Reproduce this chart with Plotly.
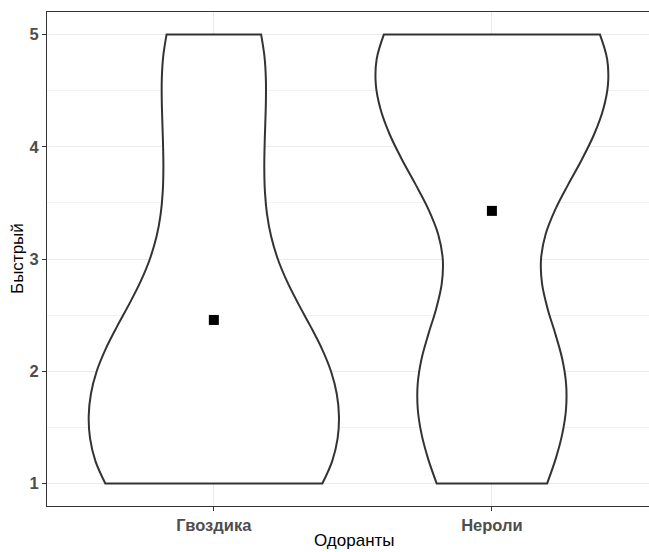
import numpy as np
import plotly.graph_objects as go

# ---- data (counts of ratings 1..5 per odorant) ----
categories = ["Гвоздика", "Нероли"]
rating_levels = [1, 2, 3, 4, 5]
gvozdika_counts = [11, 11, 4, 4, 5]
neroli_counts = [5, 8, 1, 9, 12]
y_ticks = [1, 2, 3, 4, 5]
x_title = "Одоранты"
y_title = "Быстрый"


def expand(counts):
    return np.repeat(rating_levels, counts).astype(float)


def nrd0(x):
    n = len(x)
    sd = np.std(x, ddof=1)
    q1, q3 = np.percentile(x, [25, 75])
    lo = min(sd, (q3 - q1) / 1.34)
    if lo == 0:
        lo = sd
    return 0.9 * lo * n ** -0.2


def max_density(x, h):
    g = np.linspace(x.min(), x.max(), 512)
    d = np.exp(-0.5 * ((g[:, None] - x[None, :]) / h) ** 2).sum(1) / (len(x) * h * np.sqrt(2 * np.pi))
    return d.max()


samples = [expand(gvozdika_counts), expand(neroli_counts)]
bws = [nrd0(s) for s in samples]
maxd = [max_density(s, h) for s, h in zip(samples, bws)]
widths = [0.9 * m / max(maxd) for m in maxd]

fig = go.Figure()
for cat, s, h, w in zip(categories, samples, bws, widths):
    fig.add_trace(go.Violin(
        x=[cat] * len(s), y=s,
        bandwidth=h, spanmode="hard", scalemode="width", width=w,
        points=False, box_visible=False, meanline_visible=False,
        fillcolor="white", line=dict(color="#333333", width=2),
        hoverinfo="skip", showlegend=False,
    ))

fig.add_trace(go.Scatter(
    x=categories, y=[s.mean() for s in samples], mode="markers",
    marker=dict(symbol="square", size=10, color="black"),
    hoverinfo="skip", showlegend=False,
))

W, H = 649, 552
L, R, T, B = 47, 0, 12, 46
pw = W - L - R
tickfont = dict(size=16.5, color="#4D4D4D", family="Liberation Sans, Arial, sans-serif", weight="bold")

fig.update_layout(
    width=W, height=H,
    margin=dict(l=L, r=R, t=T, b=B),
    paper_bgcolor="white", plot_bgcolor="white",
    violinmode="overlay",
    font=dict(family="Liberation Sans, Arial, sans-serif"),
    xaxis=dict(
        type="category", categoryorder="array", categoryarray=categories,
        range=[-0.6, 1.565],
        showgrid=True, gridcolor="#EBEBEB", gridwidth=1,
        showline=True, linecolor="#333333", linewidth=1, mirror=True,
        ticks="outside", ticklen=4, tickcolor="#333333", tickwidth=1,
        tickfont=tickfont, zeroline=False,
    ),
    yaxis=dict(
        range=[0.8, 5.2], tickvals=y_ticks,
        showgrid=True, gridcolor="#EBEBEB", gridwidth=1,
        minor=dict(dtick=0.5, tick0=1, showgrid=True, gridcolor="#F2F2F2", gridwidth=1),
        showline=True, linecolor="#333333", linewidth=1, mirror=False,
        ticks="outside", ticklen=4, tickcolor="#333333", tickwidth=1,
        tickfont=tickfont, zeroline=False,
    ),
    annotations=[
        dict(text=x_title, xref="paper", yref="paper", x=(354 - L) / pw, y=-(540 - (H - B)) / (H - T - B),
             showarrow=False, xanchor="center", yanchor="middle",
             font=dict(size=17, color="black")),
        dict(text=y_title, xref="paper", yref="paper", x=-(L - 17) / pw, y=0.5,
             showarrow=False, xanchor="center", yanchor="middle", textangle=-90,
             font=dict(size=17, color="black")),
    ],
)

fig.write_html("out.html", config={"displayModeBar": False},
               post_script="document.body.style.margin='0';document.body.style.overflow='hidden';")
